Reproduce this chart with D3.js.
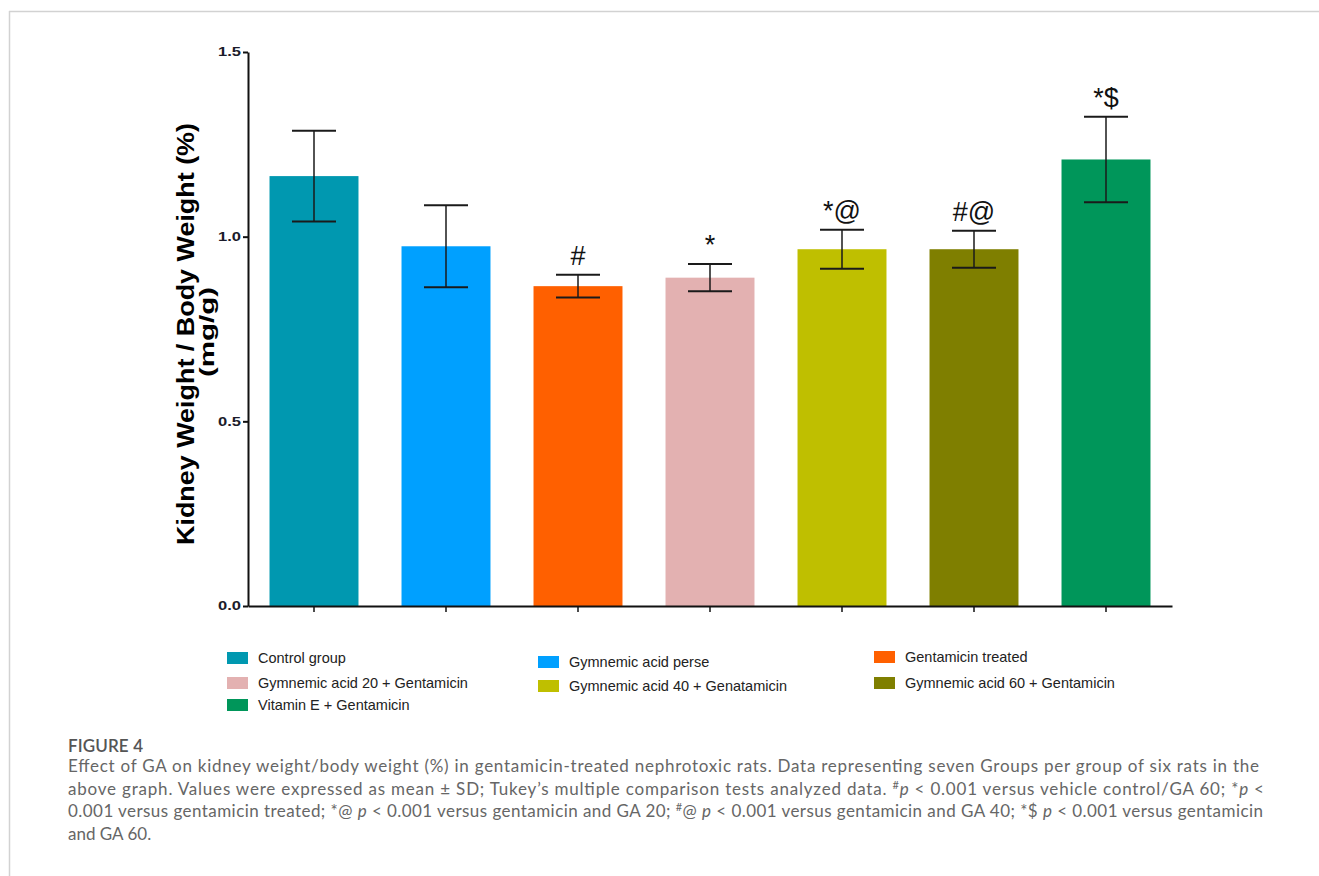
<!DOCTYPE html>
<html>
<head>
<meta charset="utf-8">
<script src="https://cdn.jsdelivr.net/npm/d3@7"></script>
<style>
  html, body { margin: 0; padding: 0; background: #ffffff; }
  svg { display: block; }
</style>
</head>
<body>
<script>
// Kidney weight / body weight (%) per treatment group, mean ± SD
const groups = [
  "Control group",
  "Gymnemic acid perse",
  "Gentamicin treated",
  "Gymnemic acid 20 + Gentamicin",
  "Gymnemic acid 40 + Genatamicin",
  "Gymnemic acid 60 + Gentamicin",
  "Vitamin E + Gentamicin"
];
const means = [1.164, 0.974, 0.866, 0.889, 0.966, 0.966, 1.209];
const sds = [0.123, 0.111, 0.031, 0.037, 0.053, 0.050, 0.116];
const marks = ["", "", "#", "*", "*@", "#@", "*$"];
const colors = ["#0098b0", "#00a0ff", "#ff6000", "#e3b1b1", "#bfbf00", "#7f7f00", "#00965a"];
const yTicks = [0, 0.5, 1.0, 1.5];

const W = 1319, H = 876;
const svg = d3.select("body").append("svg").attr("width", W).attr("height", H);

// page frame
svg.append("line").attr("x1", 9).attr("x2", W).attr("y1", 11.5).attr("y2", 11.5)
  .attr("stroke", "#d2d2d2").attr("stroke-width", 1.5);
svg.append("line").attr("x1", 9.5).attr("x2", 9.5).attr("y1", 11).attr("y2", H)
  .attr("stroke", "#d2d2d2").attr("stroke-width", 1.5);

const x = d3.scaleBand().domain(groups).range([248, 1172]).paddingInner(0.326).paddingOuter(0.163);
const y = d3.scaleLinear().domain([0, 1.5]).range([606, 52]);

// bars
svg.append("g").selectAll("rect").data(groups).join("rect")
  .attr("x", d => x(d))
  .attr("width", x.bandwidth())
  .attr("y", (d, i) => y(means[i]))
  .attr("height", (d, i) => y(0) - y(means[i]))
  .attr("fill", (d, i) => colors[i]);

// error bars
const eb = svg.append("g").selectAll("g").data(groups).join("g");
const capW = 44;
eb.append("line")
  .attr("x1", d => x(d) + x.bandwidth() / 2)
  .attr("x2", d => x(d) + x.bandwidth() / 2)
  .attr("y1", (d, i) => y(means[i] + sds[i]))
  .attr("y2", (d, i) => y(means[i] - sds[i]))
  .attr("stroke", "#1a1a1a").attr("stroke-width", 1.5);
[1, -1].forEach(sgn => {
  eb.append("line")
    .attr("x1", d => x(d) + x.bandwidth() / 2 - capW / 2)
    .attr("x2", d => x(d) + x.bandwidth() / 2 + capW / 2)
    .attr("y1", (d, i) => y(means[i] + sgn * sds[i]))
    .attr("y2", (d, i) => y(means[i] + sgn * sds[i]))
    .attr("stroke", "#1a1a1a").attr("stroke-width", 2);
});

// significance marks
svg.append("g").selectAll("text").data(groups).join("text")
  .attr("x", d => x(d) + x.bandwidth() / 2)
  .attr("y", (d, i) => y(means[i] + sds[i]) - 10)
  .attr("text-anchor", "middle")
  .attr("font-family", "'Liberation Sans', Arial, sans-serif")
  .attr("font-size", 27)
  .attr("fill", "#111")
  .text((d, i) => marks[i]);

// axes
const yAxis = svg.append("g").attr("transform", "translate(248,0)")
  .call(d3.axisLeft(y).tickValues(yTicks).tickFormat(d3.format(".1f")).tickSize(5).tickSizeOuter(0).tickPadding(2));
yAxis.select(".domain").attr("stroke", "#111").attr("stroke-width", 2);
yAxis.selectAll(".tick line").attr("stroke", "#111").attr("stroke-width", 2);
yAxis.selectAll(".tick text")
  .attr("font-family", "'Liberation Sans', Arial, sans-serif")
  .attr("font-weight", "bold").attr("font-size", 12).attr("fill", "#1b1b2a")
  .attr("textLength", 23).attr("lengthAdjust", "spacingAndGlyphs");

const xAxis = svg.append("g").attr("transform", "translate(0,606)")
  .call(d3.axisBottom(x).tickSize(6).tickSizeOuter(0).tickFormat(""));
xAxis.select(".domain").attr("stroke", "#111").attr("stroke-width", 2);
xAxis.selectAll(".tick line").attr("stroke", "#111").attr("stroke-width", 1.5);

// y-axis title
const yt = svg.append("g").attr("font-family", "'Liberation Sans', Arial, sans-serif")
  .attr("font-weight", "bold").attr("fill", "#000").attr("text-anchor", "middle");
yt.append("text").attr("transform", "translate(194,334) rotate(-90)")
  .attr("font-size", 24).attr("textLength", 422).attr("lengthAdjust", "spacingAndGlyphs")
  .text("Kidney Weight / Body Weight (%)");
yt.append("text").attr("transform", "translate(214,332) rotate(-90)")
  .attr("font-size", 20).attr("textLength", 90).attr("lengthAdjust", "spacingAndGlyphs")
  .text("(mg/g)");

// legend: three columns, filled row by row in group order
const legCols = [227, 538, 874];
const legRows = [[652, 677, 699], [656, 680, 703], [651, 677, 700]];
const leg = svg.append("g").selectAll("g").data(groups).join("g")
  .attr("transform", (d, i) => `translate(${legCols[i % 3]},${legRows[i % 3][Math.floor(i / 3)]})`);
leg.append("rect").attr("width", 21).attr("height", 12).attr("fill", (d, i) => colors[i]);
leg.append("text").attr("x", 31).attr("y", 11)
  .attr("font-family", "'Liberation Sans', Arial, sans-serif")
  .attr("font-size", 14.5).attr("fill", "#222")
  .text(d => d);

// caption
const cap = svg.append("g").attr("font-family", "Lato, 'Open Sans', sans-serif").attr("fill", "#666");
cap.append("text").attr("x", 68).attr("y", 752).attr("font-size", 17).attr("font-weight", 600)
  .attr("fill", "#555").attr("textLength", 75).attr("lengthAdjust", "spacing").text("FIGURE 4");

const capLines = [
  [["Effect of GA on kidney weight/body weight (%) in gentamicin-treated nephrotoxic rats. Data representing seven Groups per group of six rats in the", ""]],
  [["above graph. Values were expressed as mean ± SD; Tukey\u2019s multiple comparison tests analyzed data. ", ""], ["#", "sup"], ["p", "i"],
   [" < 0.001 versus vehicle control/GA 60; *", ""], ["p", "i"], [" <", ""]],
  [["0.001 versus gentamicin treated; *@ ", ""], ["p", "i"], [" < 0.001 versus gentamicin and GA 20; ", ""], ["#", "sup"], ["@ ", ""], ["p", "i"],
   [" < 0.001 versus gentamicin and GA 40; *$ ", ""], ["p", "i"], [" < 0.001 versus gentamicin", ""]],
  [["and GA 60.", ""]]
];
const capLens = [1191, 1196, 1195, null];
const capBase = [772, 795, 817, 840];
capLines.forEach((parts, li) => {
  const t = cap.append("text").attr("x", 68).attr("y", capBase[li]).attr("font-size", 17);
  if (capLens[li]) t.attr("textLength", capLens[li]).attr("lengthAdjust", "spacing");
  let raised = false;
  parts.forEach(([s, kind]) => {
    const ts = t.append("tspan").text(s);
    if (kind === "i") ts.attr("font-style", "italic");
    if (kind === "sup") { ts.attr("font-size", 11).attr("dy", -6); raised = true; }
    else if (raised) { ts.attr("dy", 6); raised = false; }
  });
});
</script>
</body>
</html>
